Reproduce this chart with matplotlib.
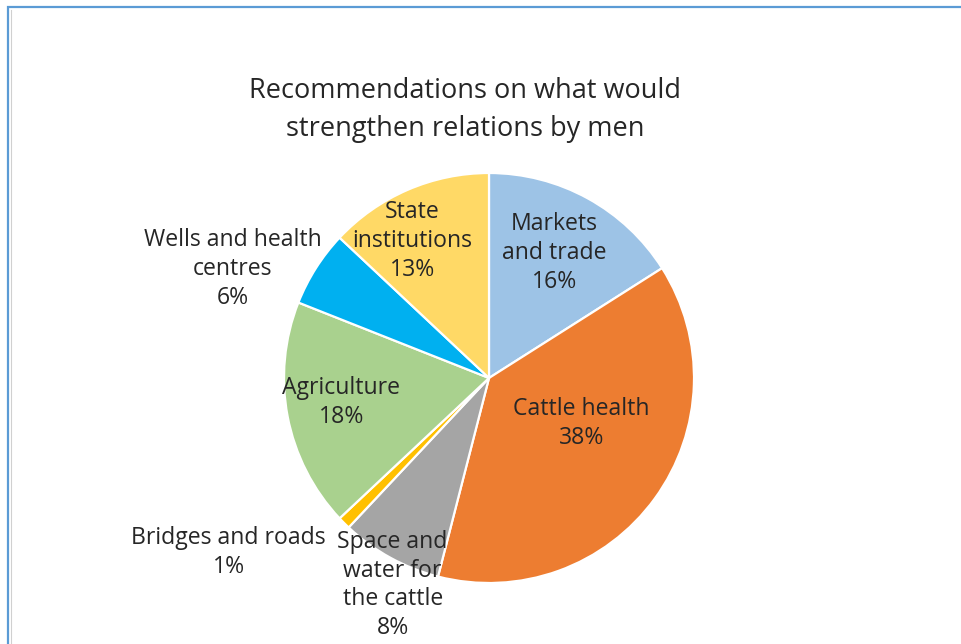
import matplotlib.pyplot as plt
from matplotlib.patches import Rectangle

# shares of the recommendations, clockwise from 12 o'clock
categories = ['Markets\nand trade', 'Cattle health', 'Space and\nwater for\nthe cattle',
              'Bridges and roads', 'Agriculture', 'Wells and health\ncentres', 'State\ninstitutions']
values = [16, 38, 8, 1, 18, 6, 13]
colors = ['#9dc3e6', '#ed7d31', '#a5a5a5', '#ffc000', '#a9d18e', '#00b0f0', '#ffd966']

# label anchor for each slice, in pie radii from the centre
label_pos = [(0.32, 0.61), (0.45, -0.22), (-0.47, -1.01), (-1.27, -0.85),
             (-0.72, -0.12), (-1.25, 0.53), (-0.375, 0.67)]

W, H = 961, 644
cx, cy, R = 489, H - 378, 205

plt.rcParams['font.family'] = ['Open Sans', 'DejaVu Sans']
fig = plt.figure(figsize=(W / 100, H / 100), dpi=100)
ax = fig.add_axes([0, 0, 1, 1])

ax.pie(values, colors=colors, startangle=90, counterclock=False,
       center=(cx, cy), radius=R, frame=True,
       wedgeprops=dict(edgecolor='white', linewidth=1.6))
ax.set_xlim(0, W)
ax.set_ylim(0, H)
ax.axis('off')

# chart-area border (left and top edges only fall inside the image)
ax.add_patch(Rectangle((8, -10), W + 20, H - 7 + 10, fill=False,
                       edgecolor='#5b9bd5', linewidth=1.6))
ax.plot([10.5, 10.5], [0, H - 9.5], color='#d0d0d0', lw=0.8)

text_color = '#262626'
for name, v, (px, py) in zip(categories, values, label_pos):
    ax.text(cx + px * R, cy + py * R, f'{name}\n{v}%', ha='center', va='center',
            fontsize=16.6, color=text_color, linespacing=1.27)

ax.text(465, H - 110, 'Recommendations on what would\nstrengthen relations by men',
        ha='center', va='center', fontsize=19.5, color=text_color, linespacing=1.5)

fig.savefig('out.png', dpi=100)
